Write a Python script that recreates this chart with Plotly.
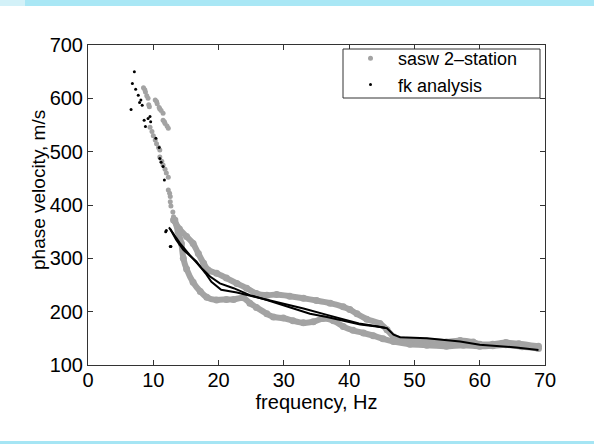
import plotly.graph_objects as go

# ---- data ----
# scattered sasw clusters at low frequency
sasw_cluster_f = [8.5, 8.7, 8.8, 9.0, 9.2, 9.3, 9.4,
                  10.3, 10.5, 10.6, 10.9, 11.0, 11.2, 11.5,
                  11.5, 11.7, 11.8, 12.1, 12.3,
                  9.5, 9.8, 10.0, 10.3, 10.5, 10.8, 11.0,
                  11.0, 11.3, 11.5, 11.8, 12.0, 12.3,
                  12.3, 12.5, 12.6, 12.6, 12.7, 13.0, 13.1]
sasw_cluster_v = [620, 616, 612, 605, 600, 588, 584,
                  597, 594, 590, 583, 580, 577, 572,
                  559, 556, 553, 548, 544,
                  546, 538, 530, 522, 515, 508, 503,
                  490, 482, 475, 467, 460, 452,
                  428, 422, 416, 406, 398, 387, 378]

# sasw upper branch
sasw_up_f = [13.1, 14.0, 15.1, 16.1, 16.9, 17.7, 18.4, 19.7, 21.2, 22.8, 24.3, 25.8,
             27.4, 28.9, 30.9, 33.0, 35.0, 37.1, 39.1, 40.1, 41.2, 42.7, 44.7, 45.8,
             46.8, 48.3, 51.9, 54.9, 57.0, 59.0, 60.0, 62.0, 64.0, 66.0, 69.0]
sasw_up_v = [372, 355, 341, 328, 309, 291, 278, 272, 263, 253, 244, 234,
             231, 232, 229, 225, 221, 216, 209, 204, 196, 186, 178, 166,
             153, 147, 145, 143, 146, 143, 139, 139, 142, 140, 135]

# sasw lower branch
sasw_lo_f = [13.3, 13.8, 14.3, 14.6, 15.1, 16.1, 17.2, 18.2, 19.7, 21.2, 22.3, 23.8,
             24.8, 25.8, 27.4, 28.4, 29.9, 31.4, 33.0, 34.5, 36.0, 37.6, 39.1, 40.6,
             42.2, 43.7, 45.2, 46.8, 49.3, 51.9, 54.9, 57.5, 60.0, 62.0, 64.0, 66.5, 69.0]
sasw_lo_v = [372, 350, 328, 300, 280, 255, 238, 227, 222, 223, 223, 226,
             216, 208, 196, 190, 188, 183, 179, 181, 187, 183, 172, 165,
             160, 155, 149, 144, 139, 137, 135, 137, 135, 136, 138, 134, 131]

# fk analysis scattered dots
fk_dot_f = [7.1, 6.8, 7.3, 7.7, 8.1, 7.9, 8.3, 6.6, 8.6, 9.2, 9.5, 8.8, 9.6,
            10.4, 10.9, 11.0, 11.2, 11.5, 11.7, 11.9, 12.0, 12.6, 12.7]
fk_dot_v = [650, 628, 617, 606, 597, 592, 587, 579, 559, 562, 566, 547, 556,
            525, 508, 487, 480, 472, 447, 350, 352, 322, 322]

# fk analysis curves
fk1_f = [12.4, 13.0, 14.1, 15.6, 17.2, 18.7, 20.2, 22.3, 24.8, 27.4, 29.4, 32.5,
         34.0, 36.6, 39.1, 41.7, 44.2, 45.8, 46.8, 47.8, 51.9, 57.0, 60.0, 65.6, 69.0]
fk1_v = [358, 348, 328, 306, 284, 266, 253, 244, 231, 222, 214, 202,
         196, 190, 183, 176, 172, 169, 157, 152, 150, 144, 138, 133, 128]
fk2_f = [12.6, 13.5, 14.6, 16.6, 18.0, 18.9, 20.4, 22.8, 25.5, 28.0, 30.5, 33.0,
         36.6, 39.5, 41.5, 44.0, 45.5]
fk2_v = [355, 335, 316, 294, 272, 256, 241, 236, 228, 221, 213, 206,
         194, 184, 178, 173, 170]

x_ticks = [0, 10, 20, 30, 40, 50, 60, 70]
y_ticks = [100, 200, 300, 400, 500, 600, 700]

FONT = "Liberation Sans, Arial, Helvetica, sans-serif"
GRAY = "#a3a3a3"

fig = go.Figure()
for bf, bv in [(sasw_up_f, sasw_up_v), (sasw_lo_f, sasw_lo_v)]:
    fig.add_trace(go.Scatter(x=bf, y=bv, mode="lines+markers",
                             line=dict(color=GRAY, width=6, shape="spline", smoothing=0.6),
                             marker=dict(color=GRAY, size=7, symbol="circle"),
                             showlegend=False, hoverinfo="skip"))
fig.add_trace(go.Scatter(x=sasw_cluster_f, y=sasw_cluster_v, mode="markers",
                         name="sasw 2\u2013station",
                         marker=dict(color=GRAY, size=5, symbol="circle")))
for bf, bv in [(fk1_f, fk1_v), (fk2_f, fk2_v)]:
    fig.add_trace(go.Scatter(x=bf, y=bv, mode="lines",
                             line=dict(color="black", width=2),
                             showlegend=False, hoverinfo="skip"))
fig.add_trace(go.Scatter(x=fk_dot_f, y=fk_dot_v, mode="markers",
                         name="fk analysis",
                         marker=dict(color="black", size=3, symbol="circle")))

L, R, T, B = 88, 49, 45, 79
W, H = 594, 444
pw, ph = W - L - R, H - T - B

def px(x):
    return (x - L) / pw

def py(y):
    return (H - B - y) / ph

shapes = [
    dict(type="rect", xref="paper", yref="paper", x0=px(0), x1=px(W), y0=py(6), y1=py(-1),
         fillcolor="#a9e7f5", line=dict(width=0), layer="below"),
    dict(type="rect", xref="paper", yref="paper", x0=px(0), x1=px(25), y0=py(6), y1=py(-1),
         fillcolor="#d3f1f8", line=dict(width=0), layer="below"),
    dict(type="rect", xref="paper", yref="paper", x0=px(0), x1=px(W), y0=py(H + 1), y1=py(441),
         fillcolor="#a5e5f4", line=dict(width=0), layer="below"),
    # legend box
    dict(type="rect", xref="paper", yref="paper", x0=px(343), x1=px(540), y0=py(98), y1=py(49),
         fillcolor="white", line=dict(color="#333333", width=1), layer="above"),
]

axis_common = dict(showline=True, linecolor="#333333", linewidth=1, mirror="ticks",
                   ticks="inside", ticklen=5, tickcolor="#333333", showgrid=False,
                   zeroline=False, tickfont=dict(family=FONT, size=20, color="black"))

fig.update_layout(
    width=W, height=H,
    margin=dict(l=L, r=R, t=T, b=B),
    paper_bgcolor="white", plot_bgcolor="white",
    font=dict(family=FONT, color="black"),
    shapes=shapes,
    xaxis=dict(range=[0, 70], tickvals=x_ticks, ticklabelstandoff=-3, **axis_common,
               title=dict(text="frequency, Hz", font=dict(family=FONT, size=20), standoff=2)),
    yaxis=dict(range=[100, 700], tickvals=y_ticks, **axis_common),
    annotations=[dict(text="phase velocity, m/s", xref="paper", yref="paper",
                      x=px(38), y=py(190), xanchor="center", yanchor="middle",
                      textangle=-90, showarrow=False,
                      font=dict(family=FONT, size=19, color="black"))],
    legend=dict(x=px(343), y=py(40), xanchor="left", yanchor="top",
                bgcolor="rgba(0,0,0,0)", borderwidth=0,
                font=dict(family=FONT, size=18), itemwidth=45,
                tracegroupgap=0),
    showlegend=True,
)

fig.write_html("out.html")
